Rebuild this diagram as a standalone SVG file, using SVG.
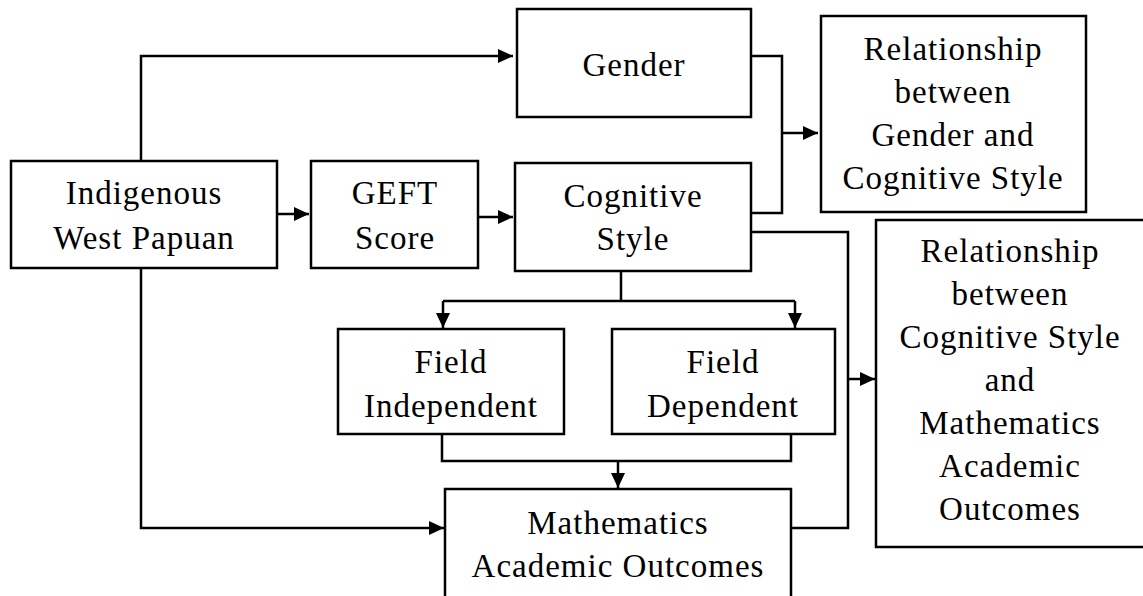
<svg xmlns="http://www.w3.org/2000/svg" width="1143" height="596" viewBox="0 0 1143 596">
<style>
.box{fill:#fff;stroke:#000;stroke-width:2.5}
.lbl{font-family:"Liberation Serif",serif;font-size:33px;letter-spacing:1px;fill:#000;text-anchor:middle}
.con{fill:none;stroke:#000;stroke-width:2.5}
</style>
<defs>
<marker id="ah" markerUnits="userSpaceOnUse" markerWidth="16" markerHeight="14" refX="15" refY="7" orient="auto">
<path d="M0,0 L15,7 L0,14 Z" fill="#000"/>
</marker>
</defs>
<g id="connectors">
<path class="con" d="M141,161 V56 H513" marker-end="url(#ah)"/>
<path class="con" d="M277,214 H309" marker-end="url(#ah)"/>
<path class="con" d="M478,217 H513" marker-end="url(#ah)"/>
<path class="con" d="M751,56 H782 V213 H751"/>
<path class="con" d="M782,133 H818" marker-end="url(#ah)"/>
<path class="con" d="M751,232 H848 V528 H791"/>
<path class="con" d="M848,379 H875" marker-end="url(#ah)"/>
<path class="con" d="M621,271 V301"/>
<path class="con" d="M443,301 H795"/>
<path class="con" d="M443,301 V328" marker-end="url(#ah)"/>
<path class="con" d="M795,301 V328" marker-end="url(#ah)"/>
<path class="con" d="M442,434 V461 H791 V434"/>
<path class="con" d="M618,461 V488" marker-end="url(#ah)"/>
<path class="con" d="M141,268 V528 H444" marker-end="url(#ah)"/>
</g>
<g id="indigenous">
<rect class="box" x="11" y="161" width="266" height="107"/>
<text class="lbl" x="144" y="204">Indigenous</text>
<text class="lbl" x="144" y="249">West Papuan</text>
</g>
<g id="gender">
<rect class="box" x="517" y="9" width="234" height="108"/>
<text class="lbl" x="634" y="76">Gender</text>
</g>
<g id="geft">
<rect class="box" x="311" y="161" width="167" height="107"/>
<text class="lbl" x="395" y="204">GEFT</text>
<text class="lbl" x="395" y="249">Score</text>
</g>
<g id="cognitive">
<rect class="box" x="515" y="163" width="236" height="108"/>
<text class="lbl" x="633" y="207">Cognitive</text>
<text class="lbl" x="633" y="250">Style</text>
</g>
<g id="rel1">
<rect class="box" x="821" y="16" width="265" height="196"/>
<text class="lbl" x="953" y="60">Relationship</text>
<text class="lbl" x="953" y="103">between</text>
<text class="lbl" x="953" y="146">Gender and</text>
<text class="lbl" x="953" y="189">Cognitive Style</text>
</g>
<g id="fieldindependent">
<rect class="box" x="338" y="329" width="226" height="105"/>
<text class="lbl" x="451" y="373">Field</text>
<text class="lbl" x="451" y="417">Independent</text>
</g>
<g id="fielddependent">
<rect class="box" x="612" y="329" width="223" height="105"/>
<text class="lbl" x="723" y="373">Field</text>
<text class="lbl" x="723" y="417">Dependent</text>
</g>
<g id="math">
<rect class="box" x="445" y="489" width="346" height="115"/>
<text class="lbl" x="618" y="534">Mathematics</text>
<text class="lbl" x="618" y="577">Academic Outcomes</text>
</g>
<g id="rel2">
<rect class="box" x="876" y="220" width="275" height="327"/>
<text class="lbl" x="1010" y="262">Relationship</text>
<text class="lbl" x="1010" y="305">between</text>
<text class="lbl" x="1010" y="348">Cognitive Style</text>
<text class="lbl" x="1010" y="391">and</text>
<text class="lbl" x="1010" y="434">Mathematics</text>
<text class="lbl" x="1010" y="477">Academic</text>
<text class="lbl" x="1010" y="520">Outcomes</text>
</g>
</svg>
